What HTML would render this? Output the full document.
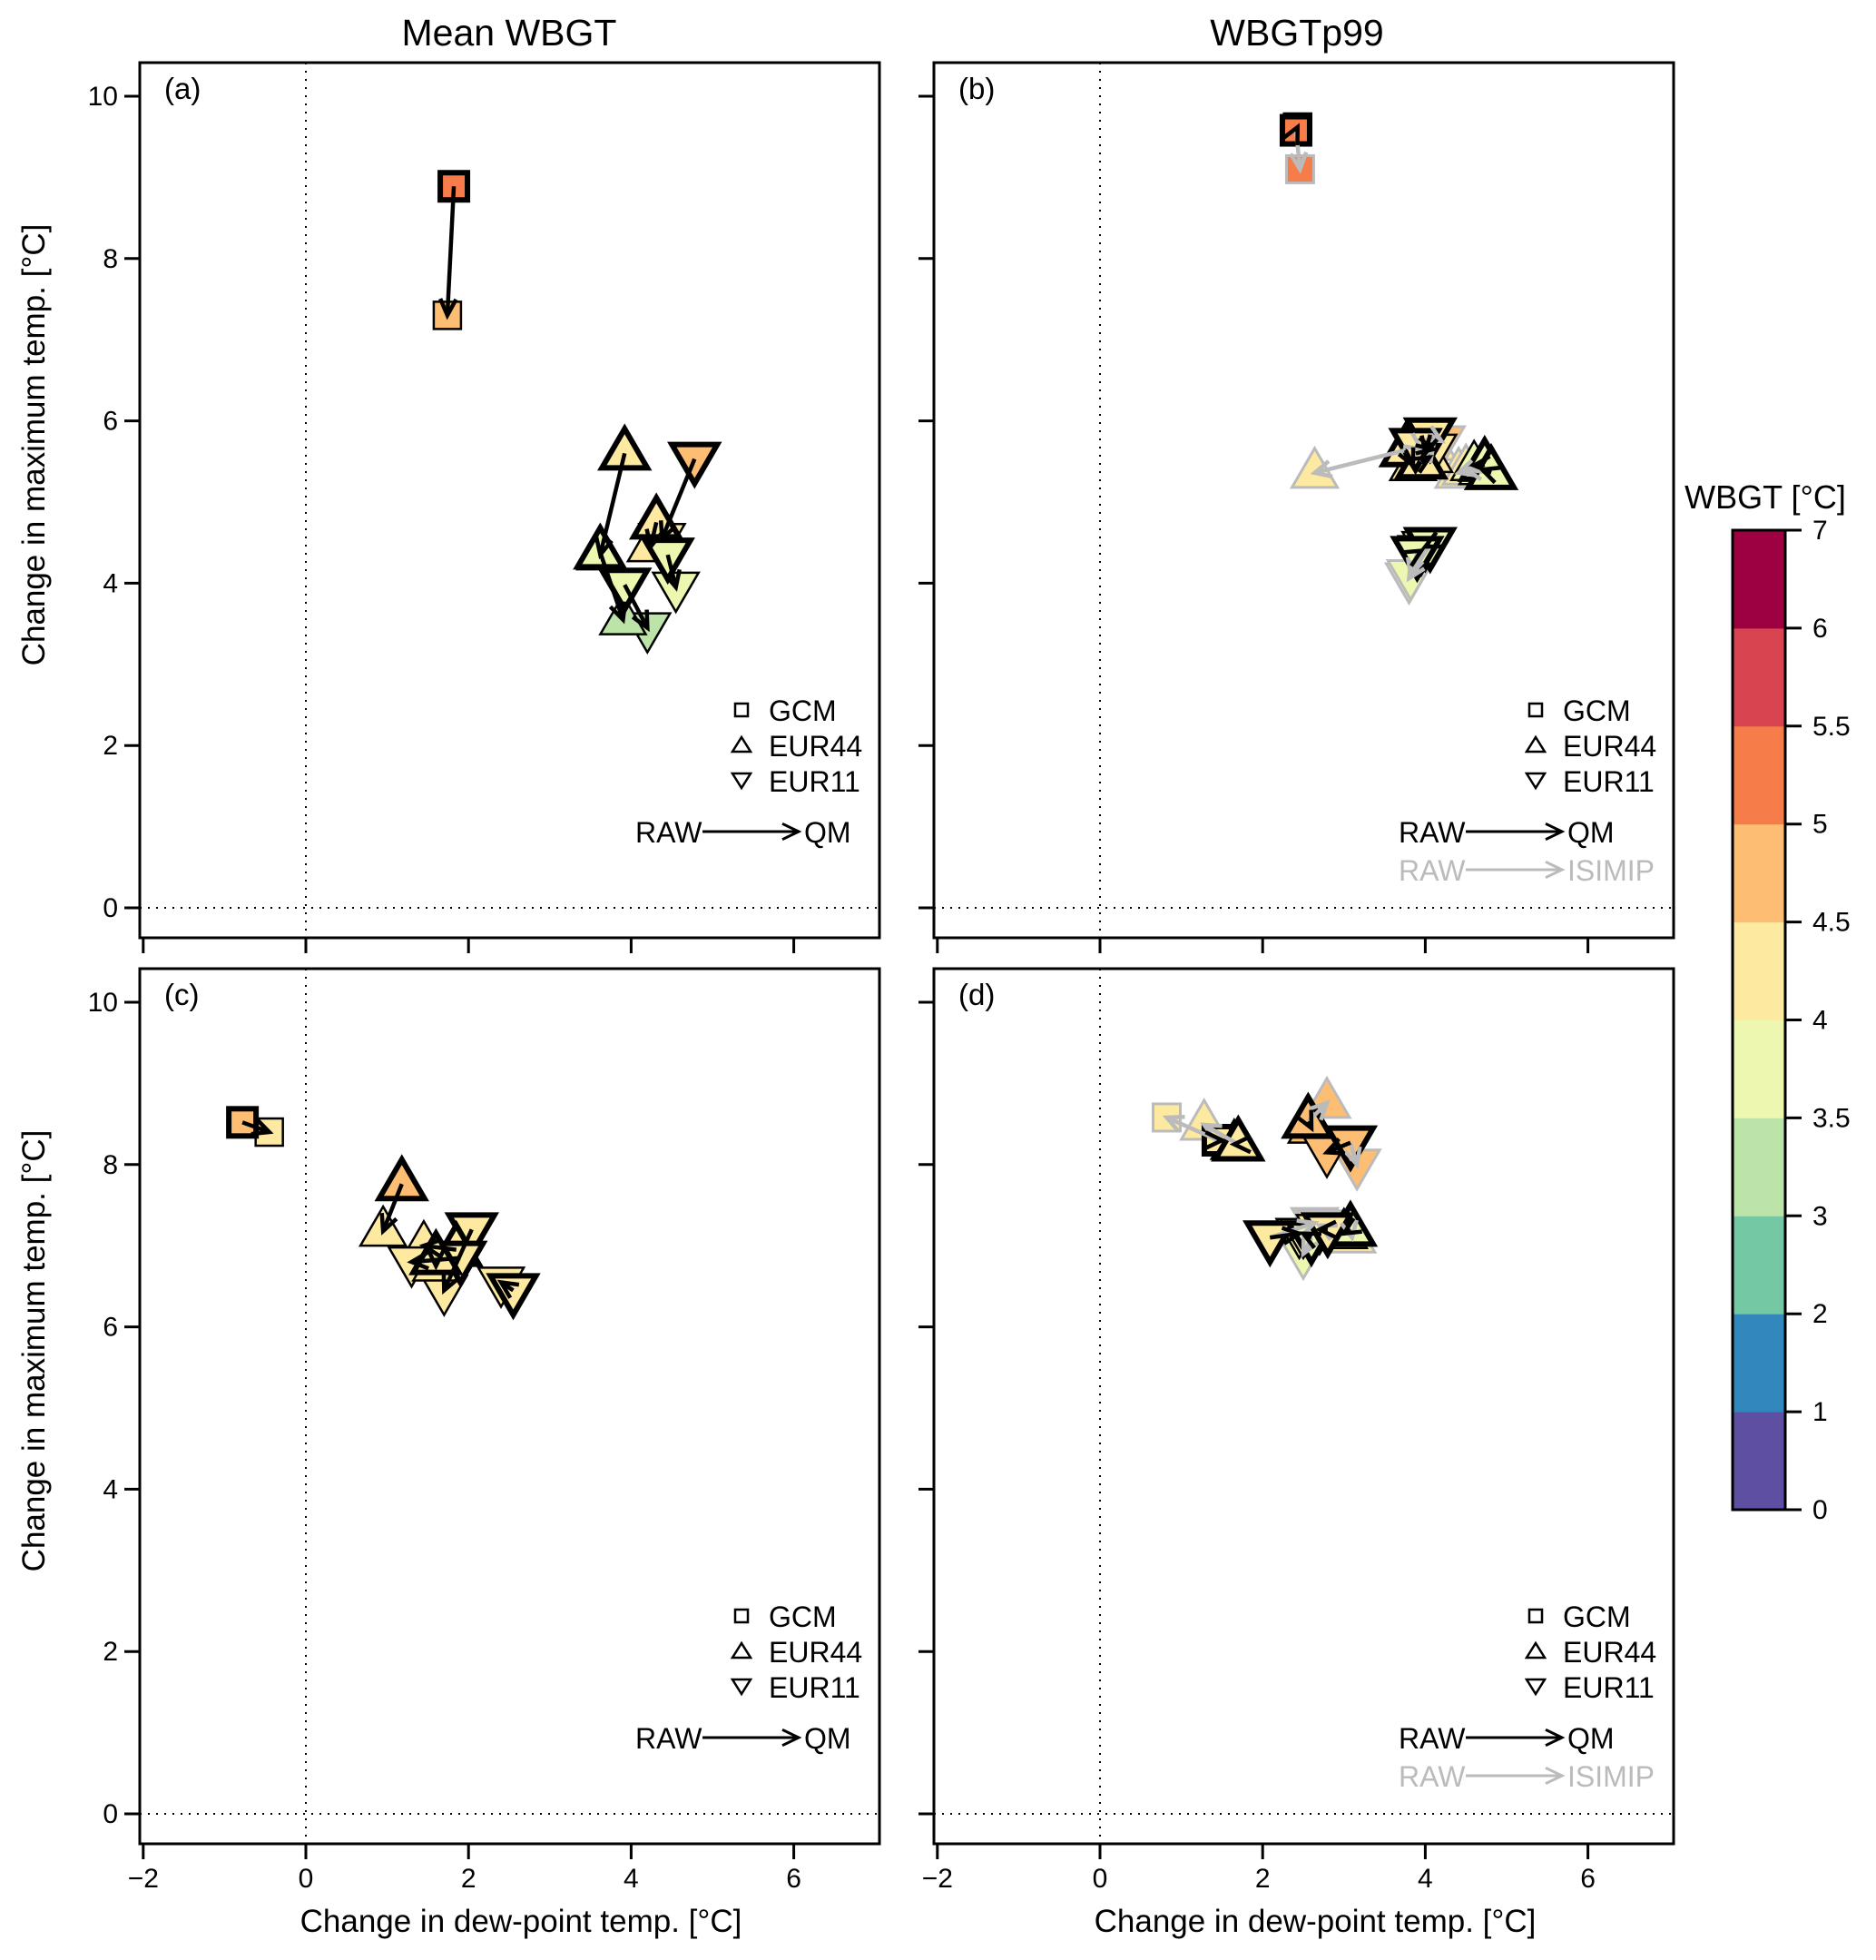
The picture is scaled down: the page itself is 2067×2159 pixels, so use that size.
<!DOCTYPE html>
<html><head><meta charset="utf-8"><style>
html,body{margin:0;padding:0;background:#fff;}
svg{display:block;font-family:"Liberation Sans",Arial,sans-serif;}
</style></head><body>
<svg id="fig" width="2067" height="2159" viewBox="0 0 2067 2159" xmlns="http://www.w3.org/2000/svg">
<g id="root"></g>
</svg>
<script>
// ---- data (dew-point change, max-temp change, WBGT change) ----
// shapes: 0 = GCM square, 1 = EUR44 up-triangle, 2 = EUR11 down-triangle
const aShape = [0,1,2,1,2,2,1];
const aRawX  = [1.82,3.92,4.78,4.31,3.92,4.45,3.62];
const aRawY  = [8.89,5.60,5.53,4.75,3.98,4.35,4.38];
const aRawW  = [5.2,4.2,4.7,4.2,3.8,3.8,3.8];
const aQmX   = [1.74,3.62,4.38,4.24,4.20,4.55,3.90];
const aQmY   = [7.30,4.35,4.55,4.45,3.45,3.95,3.55];
const aQmW   = [4.7,3.8,4.2,4.2,3.3,3.8,3.3];

const bShape = [0,1,1,2,2,1,1,2,2];
const bRawX  = [2.41,3.76,3.95,4.06,3.88,4.73,4.81,4.06,3.90];
const bRawY  = [9.58,5.64,5.49,5.83,5.70,5.46,5.36,4.48,4.37];
const bRawW  = [5.2,4.2,4.2,4.2,4.2,3.8,3.8,3.8,3.8];
const bQmX   = [2.43,3.85,4.05,4.00,4.10,4.60,4.70,4.00,3.95];
const bQmY   = [9.62,5.45,5.55,5.60,5.65,5.45,5.40,4.45,4.40];
const bQmW   = [5.2,4.2,4.2,4.2,4.2,3.8,3.8,3.8,3.8];
const bIsiX  = [2.46,2.64,4.10,4.20,3.95,4.41,4.50,3.80,3.82];
const bIsiY  = [9.10,5.36,5.70,5.75,5.65,5.36,5.40,4.06,4.10];
const bIsiW  = [5.2,4.2,4.2,4.7,4.2,4.2,4.2,3.8,3.8];

const cShape = [0,1,2,1,2,2,1];
const cRawX  = [-0.78,1.18,2.04,1.85,1.90,2.55,1.60];
const cRawY  = [8.52,7.76,7.20,6.95,6.85,6.45,6.85];
const cRawW  = [4.7,4.7,4.2,4.2,4.2,4.2,4.2];
const cQmX   = [-0.45,0.95,1.70,1.45,1.30,2.40,1.60];
const cQmY   = [8.40,7.18,6.45,7.00,6.80,6.55,6.75];
const cQmW   = [4.2,4.2,4.2,4.2,4.2,4.2,4.2];

const dShape = [0,1,1,2,2,1,2,2];
const dRawX  = [1.45,1.70,2.56,3.08,2.09,3.08,2.60,2.80];
const dRawY  = [8.30,8.25,8.53,8.27,7.10,7.20,7.10,7.20];
const dRawW  = [4.2,4.2,4.7,4.7,4.2,3.8,3.8,4.2];
const dQmX   = [1.50,1.65,2.60,2.79,2.45,3.00,2.50,2.70];
const dQmY   = [8.30,8.25,8.45,8.15,7.15,7.15,7.15,7.20];
const dQmW   = [4.2,4.2,4.7,4.7,4.2,3.8,3.8,4.2];
const dIsiX  = [0.82,1.28,2.79,3.16,2.64,3.10,2.50,2.70];
const dIsiY  = [8.58,8.49,8.76,8.00,7.28,7.10,6.90,7.25];
const dIsiW  = [4.2,4.2,4.7,4.7,4.2,4.2,3.8,4.2];

const cbBreaks = [0,1,2,3,3.5,4,4.5,5,5.5,6,7];
const cbLabels = ["0","1","2","3","3.5","4","4.5","5","5.5","6","7"];
const cbColors = ["#5E4FA2","#3288BD","#74C9A4","#BCE4A8","#EEF7B0","#FEE9A0","#FDBE74","#F67D4A","#D8444F","#9E0142"];
const xTicks = [-2,0,2,4,6];
const yTicks = [0,2,4,6,8,10];

const NS="http://www.w3.org/2000/svg";
const root=document.getElementById('root');
function mk(tag,attrs,parent){const e=document.createElementNS(NS,tag);for(const k in attrs)e.setAttribute(k,attrs[k]);(parent||root).appendChild(e);return e;}
function txt(s,attrs,parent){const e=mk('text',attrs,parent);e.textContent=s;return e;}
function colorFor(w){for(let i=0;i<cbColors.length;i++){if(w<cbBreaks[i+1])return cbColors[i];}return cbColors[cbColors.length-1];}

const panels=[
 {id:'a',x0:154,y0:69,label:'(a)',shape:aShape,rx:aRawX,ry:aRawY,rw:aRawW,qx:aQmX,qy:aQmY,qw:aQmW,ylab:true,xlab:false},
 {id:'b',x0:1029,y0:69,label:'(b)',shape:bShape,rx:bRawX,ry:bRawY,rw:bRawW,qx:bQmX,qy:bQmY,qw:bQmW,ix:bIsiX,iy:bIsiY,iw:bIsiW,ylab:false,xlab:false},
 {id:'c',x0:154,y0:1067,label:'(c)',shape:cShape,rx:cRawX,ry:cRawY,rw:cRawW,qx:cQmX,qy:cQmY,qw:cQmW,ylab:true,xlab:true},
 {id:'d',x0:1029,y0:1067,label:'(d)',shape:dShape,rx:dRawX,ry:dRawY,rw:dRawW,qx:dQmX,qy:dQmY,qw:dQmW,ix:dIsiX,iy:dIsiY,iw:dIsiW,ylab:false,xlab:true}
];
const PW=815, PH=964, UX=89.6, UY=89.4;

function marker(g,shape,cx,cy,fill,stroke,sw){
  let e;
  if(shape===0){e=mk('rect',{x:cx-15,y:cy-15,width:30,height:30,fill:fill,stroke:stroke,'stroke-width':sw,'stroke-linejoin':'miter'},g);}
  else if(shape===1){e=mk('polygon',{points:`${cx},${cy-27} ${cx-25},${cy+16} ${cx+25},${cy+16}`,fill:fill,stroke:stroke,'stroke-width':sw,'stroke-linejoin':'miter'},g);}
  else {e=mk('polygon',{points:`${cx},${cy+27} ${cx-25},${cy-16} ${cx+25},${cy-16}`,fill:fill,stroke:stroke,'stroke-width':sw,'stroke-linejoin':'miter'},g);}
  return e;
}
function arrow(g,x1,y1,x2,y2,col,sw,hl){
  const l=mk('line',{x1:x1,y1:y1,x2:x2,y2:y2,stroke:col,'stroke-width':sw},g);
  const a=Math.atan2(y2-y1,x2-x1);
  const p1=[x2-hl*Math.cos(a-0.45),y2-hl*Math.sin(a-0.45)];
  const p2=[x2-hl*Math.cos(a+0.45),y2-hl*Math.sin(a+0.45)];
  mk('polyline',{points:`${p1[0]},${p1[1]} ${x2},${y2} ${p2[0]},${p2[1]}`,fill:'none',stroke:col,'stroke-width':sw},g);
  return l;
}

panels.forEach(p=>{
  const g=mk('g',{});
  
  
  const X=v=>p.x0+183+v*UX;
  const Y=v=>p.y0+931-v*UY;
  mk('line',{x1:X(0),y1:p.y0,x2:X(0),y2:p.y0+PH,stroke:'#000','stroke-width':2,'stroke-dasharray':'2 7'},g);
  mk('line',{x1:p.x0,y1:Y(0),x2:p.x0+PW,y2:Y(0),stroke:'#000','stroke-width':2,'stroke-dasharray':'2 7'},g);
  if(p.ix){
    p.ix.forEach((v,i)=>{const m=marker(g,p.shape[i],X(v),Y(p.iy[i]),colorFor(p.iw[i]),'#bbbbbb',3);
      });
  }
  p.qx.forEach((v,i)=>{const m=marker(g,p.shape[i],X(v),Y(p.qy[i]),colorFor(p.qw[i]),'#000',2.5);
    });
  p.rx.forEach((v,i)=>{const m=marker(g,p.shape[i],X(v),Y(p.ry[i]),colorFor(p.rw[i]),'#000',6);
    });
  if(p.ix){
    p.ix.forEach((v,i)=>{const l=arrow(g,X(p.rx[i]),Y(p.ry[i]),X(v),Y(p.iy[i]),'#bbbbbb',4.5,20);
      });
  }
  p.qx.forEach((v,i)=>{const l=arrow(g,X(p.rx[i]),Y(p.ry[i]),X(v),Y(p.qy[i]),'#000',4.5,20);
    });
  mk('rect',{x:p.x0,y:p.y0,width:PW,height:PH,fill:'none',stroke:'#000','stroke-width':3},g);
  yTicks.forEach(t=>{mk('line',{x1:p.x0-17,y1:Y(t),x2:p.x0,y2:Y(t),stroke:'#000','stroke-width':3},g);
    if(p.ylab){const e=txt(String(t),{x:p.x0-24,y:Y(t)+10,'font-size':30,'text-anchor':'end'},g);
      }});
  xTicks.forEach(t=>{mk('line',{x1:X(t),y1:p.y0+PH,x2:X(t),y2:p.y0+PH+17,stroke:'#000','stroke-width':3},g);
    if(p.xlab){const e=txt(String(t).replace('-','\u2212'),{x:X(t),y:p.y0+PH+48,'font-size':30,'text-anchor':'middle'},g);
      }});
  const pl=txt(p.label,{x:p.x0+27,y:p.y0+40,'font-size':33},g);
  
  if(p.ylab){const e=txt('Change in maximum temp. [\u00B0C]',{x:0,y:0,'font-size':35,'text-anchor':'middle',transform:`translate(49,${p.y0+421}) rotate(-90)`},g);
    }
  if(p.xlab){const e=txt('Change in dew-point temp. [\u00B0C]',{x:p.x0+420,y:2128,'font-size':35,'text-anchor':'middle'},g);
    }
  const lg=mk('g',{},g);
  
  
  const lx=p.x0+663, ly=p.y0+713;
  mk('rect',{x:lx-7,y:ly-7,width:14,height:14,fill:'none',stroke:'#000','stroke-width':2.5},lg);
  mk('polygon',{points:`${lx},${ly+30} ${lx-10},${ly+46} ${lx+10},${ly+46}`,fill:'none',stroke:'#000','stroke-width':2.5},lg);
  mk('polygon',{points:`${lx},${ly+86} ${lx-10},${ly+70} ${lx+10},${ly+70}`,fill:'none',stroke:'#000','stroke-width':2.5},lg);
  txt('GCM',{x:lx+30,y:ly+12,'font-size':32},lg);
  txt('EUR44',{x:lx+30,y:ly+51,'font-size':32},lg);
  txt('EUR11',{x:lx+30,y:ly+90,'font-size':32},lg);
  const ry=ly+146;
  const sx = p.ix ? p.x0+512 : p.x0+546;
  txt('RAW',{x:sx,y:ry,'font-size':32},lg);
  arrow(lg,sx+74,ry-12,sx+180,ry-12,'#000',3,20);
  txt('QM',{x:sx+186,y:ry,'font-size':32},lg);
  if(p.ix){
    const iy=ry+42;
    txt('RAW',{x:sx,y:iy,'font-size':32,fill:'#bbbbbb'},lg);
    arrow(lg,sx+74,iy-12,sx+180,iy-12,'#bbbbbb',3,20);
    txt('ISIMIP',{x:sx+186,y:iy,'font-size':32,fill:'#bbbbbb'},lg);
  }
});

const t1=txt('Mean WBGT',{x:561,y:50,'font-size':41,'text-anchor':'middle'});

const t2=txt('WBGTp99',{x:1429,y:50,'font-size':41,'text-anchor':'middle'});


const cb=mk('g',{});


const cbTop=584, cbBot=1663, cbL=1909, cbR=1967;
const binH=(cbBot-cbTop)/cbColors.length;
cbColors.forEach((c,i)=>{const r=mk('rect',{x:cbL,y:cbBot-(i+1)*binH,width:cbR-cbL,height:binH+0.5,fill:c},cb);
  });
mk('rect',{x:cbL,y:cbTop,width:cbR-cbL,height:cbBot-cbTop,fill:'none',stroke:'#000','stroke-width':3},cb);
cbLabels.forEach((s,i)=>{const y=cbBot-i*binH;
  mk('line',{x1:cbR,y1:y,x2:cbR+18,y2:y,stroke:'#000','stroke-width':3},cb);
  const e=txt(s,{x:cbR+30,y:y+10,'font-size':30},cb);
  });
const ct=txt('WBGT [\u00B0C]',{x:1945,y:560,'font-size':36,'text-anchor':'middle'},cb);

</script>
</body></html>
